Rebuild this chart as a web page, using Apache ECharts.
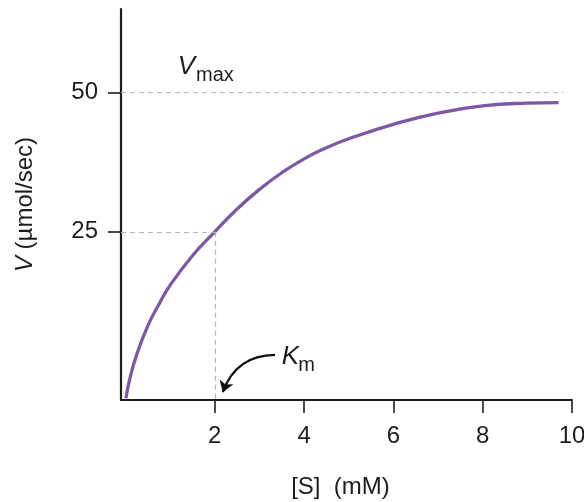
<!DOCTYPE html>
<html><head><meta charset="utf-8">
<script src="https://cdn.jsdelivr.net/npm/echarts@6/dist/echarts.min.js"></script>
<style>html,body{margin:0;padding:0;background:#fff}#c{width:584px;height:502px}</style>
</head><body><div id="c"></div>
<script>
// Substrate concentration [S] (mM) and velocity V (µmol/sec)
const sValues = [0.01, 0.1, 0.25, 0.5, 0.75, 1.0, 1.5, 2.0, 2.5, 3.0, 3.5, 4.0, 4.5, 5.0, 6.0, 7.0, 8.0, 9.0, 9.7];
const vValues = [-4.9, -1.3, 2.9, 8.1, 12.0, 15.4, 20.7, 25.0, 29.1, 32.6, 35.6, 38.1, 40.1, 41.7, 44.3, 46.3, 47.6, 48.1, 48.2];
const xTicks = [2, 4, 6, 8, 10];
const yTicks = [25, 50];
const vmax = 50;
const halfVmax = 25;
const km = 2;

const FONT = 'Liberation Sans';
const INK = '#1f1c1d';
const curve = sValues.map((s, i) => [s, vValues[i]]);
const chart = echarts.init(document.getElementById('c'), null, {renderer: 'canvas'});
const dash = {color: '#b4b4b4', width: 1.2, type: [5, 4]};

chart.setOption({
  animation: false,
  grid: {left: 121, right: 12, top: 9, bottom: 102, outerBoundsMode: 'none', containLabel: false},
  xAxis: {
    type: 'value', min: -0.1, max: 10,
    name: '[S]  (mM)', nameLocation: 'middle', nameGap: 75,
    nameTextStyle: {fontFamily: FONT, fontSize: 24, color: INK, padding: [0, 12, 0, 0]},
    axisLine: {onZero: false, lineStyle: {color: INK, width: 2.2}},
    axisTick: {customValues: xTicks, length: 13, lineStyle: {color: INK, width: 1.6}},
    axisLabel: {customValues: xTicks, margin: 24, fontFamily: FONT, fontSize: 24, color: INK, hideOverlap: false},
    splitLine: {show: false}
  },
  yAxis: {
    type: 'value', min: -5.2, max: 65,
    name: '{i|V} (µmol/sec)', nameLocation: 'middle', nameGap: 84, nameRotate: 90,
    nameTextStyle: {fontFamily: FONT, fontSize: 24, color: INK,
      rich: {i: {fontFamily: FONT, fontSize: 24, fontStyle: 'italic', color: INK}}},
    axisLine: {onZero: false, lineStyle: {color: INK, width: 2.2}},
    axisTick: {customValues: yTicks, inside: false, length: 13, lineStyle: {color: INK, width: 1.6}},
    axisLabel: {customValues: yTicks, margin: 23, fontFamily: FONT, fontSize: 24, color: INK},
    splitLine: {show: false}
  },
  series: [
    {
      type: 'line', data: curve, smooth: 0.5, showSymbol: false, clip: true,
      lineStyle: {color: '#7d58a6', width: 3.3},
      markLine: {
        silent: true, symbol: 'none', label: {show: false}, lineStyle: dash,
        data: [
          [{coord: [-0.1, vmax]}, {coord: [9.8, vmax]}],
          [{coord: [-0.1, halfVmax]}, {coord: [km, halfVmax]}],
          [{coord: [km, halfVmax]}, {coord: [km, -5.2]}]
        ]
      },
      z: 3
    },
    {
      type: 'lines', coordinateSystem: 'cartesian2d', silent: true,
      symbol: ['none', 'arrow'], symbolSize: 11,
      lineStyle: {color: '#111', width: 2.2, curveness: -0.35, opacity: 1},
      data: [{coords: [[3.35, 2.9], [2.18, -3.8]]}]
    },
    {
      type: 'scatter', symbolSize: 0, silent: true,
      itemStyle: {opacity: 1},
      label: {show: true, position: 'right', distance: 0, color: INK, fontFamily: FONT},
      data: [
        {value: [1.17, 54.6], label: {formatter: 'V', fontSize: 26, fontStyle: 'italic', color: INK}},
        {value: [1.58, 53.0], label: {formatter: 'max', fontSize: 20, color: INK}},
        {value: [3.50, 2.6], label: {formatter: 'K', fontSize: 26, fontStyle: 'italic', color: INK}},
        {value: [3.87, 1.0], label: {formatter: 'm', fontSize: 20, color: INK}}
      ]
    }
  ]
});
</script></body></html>
